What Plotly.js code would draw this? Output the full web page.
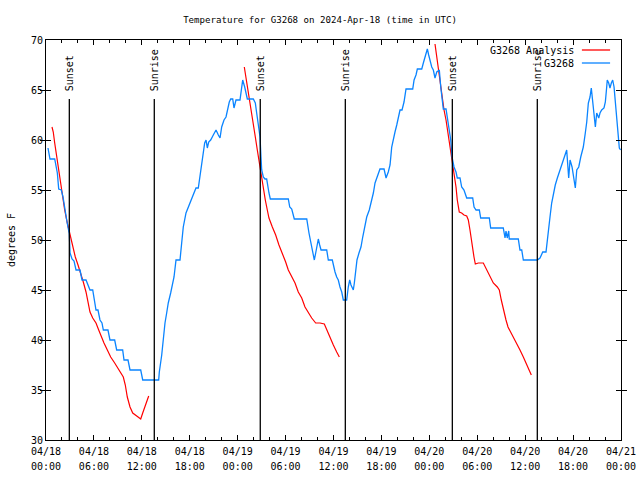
<!DOCTYPE html>
<html>
<head>
<meta charset="utf-8">
<script src="https://cdn.plot.ly/plotly-3.0.1.min.js"></script>
<style>html,body{margin:0;padding:0;background:#fff;}#chart{width:640px;height:480px;}</style>
</head>
<body>
<div id="chart"></div>
<script>
// Hours since 2024-04-18 00:00 UTC
const obsHours = [0.25,0.50,1.09,1.42,1.59,1.92,2.13,2.34,2.59,2.75,2.92,3.01,3.26,3.51,3.76,4.26,4.51,5.01,5.26,5.51,5.85,6.10,6.26,6.51,6.76,7.01,7.18,7.76,8.01,8.60,8.85,9.60,9.77,10.27,10.52,11.86,12.11,14.11,14.19,14.49,14.69,14.90,15.11,15.31,15.61,15.87,16.03,16.28,16.78,16.99,17.19,17.53,17.82,18.12,18.45,18.78,19.07,19.28,19.62,19.87,20.04,20.20,20.37,20.62,20.95,21.29,21.58,21.79,22.00,22.29,22.54,22.70,22.95,23.13,23.38,23.54,23.79,24.29,24.38,24.63,24.88,25.04,25.21,25.96,26.21,26.38,26.58,26.80,26.92,27.01,27.21,27.42,27.63,27.76,27.92,28.09,30.34,30.52,30.77,30.93,31.09,32.65,32.77,32.93,33.10,33.27,33.47,33.60,33.77,33.93,34.10,34.27,34.44,35.15,35.35,35.85,36.03,36.19,36.40,36.60,36.81,37.03,37.23,37.65,37.85,38.03,38.19,38.48,38.61,38.78,38.94,39.19,39.44,39.66,39.95,40.16,40.48,40.79,40.99,41.20,41.49,41.82,42.33,42.58,42.86,43.08,43.29,43.49,43.70,43.92,44.12,44.33,44.58,44.83,45.08,45.92,46.09,46.33,46.50,47.05,47.25,47.46,47.75,47.92,48.09,48.30,48.50,48.71,48.93,49.25,49.43,49.59,49.75,50.09,50.25,50.43,50.68,50.84,51.09,51.34,51.50,51.84,52.05,52.34,52.68,53.43,53.60,53.85,54.26,54.43,55.51,55.68,57.26,57.48,57.60,57.76,57.94,58.01,59.14,59.35,59.57,59.77,61.52,61.86,62.20,62.61,62.78,62.95,63.11,63.32,63.52,63.77,64.03,64.28,64.58,64.86,65.20,65.45,65.62,65.87,66.12,66.28,66.46,66.71,66.96,67.28,67.53,67.71,67.91,68.12,68.28,68.46,68.62,68.79,68.96,69.21,69.37,69.58,69.87,70.04,70.21,70.28,70.46,70.62,70.79,70.96,71.13,71.29,71.47,71.67,71.79,71.95];
const obsTemp = [59.2,58.1,58.1,56.7,55.1,55.0,54.3,53.0,52.0,51.3,50.6,48.7,48.1,47.9,47.0,47.0,46.0,46.0,45.5,45.0,45.0,43.8,43.0,43.0,42.0,41.7,41.0,41.0,40.0,40.0,39.0,39.0,38.0,38.0,37.0,37.0,36.0,36.0,36.8,38.5,40.3,41.7,42.7,43.7,44.7,45.7,46.3,48.0,48.0,49.7,51.3,52.7,53.3,53.8,54.5,55.2,55.2,56.3,58.0,59.7,60.0,59.2,59.8,60.0,60.5,61.0,60.5,60.2,61.3,62.0,62.3,63.0,63.8,64.1,64.1,63.2,64.0,64.0,64.7,66.0,65.3,64.7,64.1,64.1,63.7,62.7,61.7,60.3,58.3,57.0,56.3,56.1,56.1,55.3,54.7,54.1,54.1,53.3,53.1,52.6,52.1,52.1,51.3,50.7,50.0,49.3,48.5,48.0,48.7,49.3,50.1,49.5,49.0,49.0,48.0,48.0,47.3,46.8,46.3,46.0,45.3,44.8,44.0,44.0,45.3,46.0,45.5,45.0,45.7,47.0,48.0,48.7,49.3,50.3,51.3,52.3,53.0,54.0,54.7,55.7,56.3,57.1,57.1,56.2,56.8,57.5,59.3,60.2,60.8,61.5,62.2,63.0,63.0,63.8,65.1,65.1,66.0,66.5,67.1,67.1,67.7,68.3,69.1,68.5,67.8,67.3,67.0,66.2,66.8,67.0,65.3,64.2,63.1,63.1,62.3,61.3,60.0,58.3,57.3,56.8,56.2,56.2,55.3,55.0,54.2,54.2,53.3,53.0,53.0,52.2,52.2,51.2,51.2,50.2,50.9,50.2,50.9,50.1,50.1,49.0,49.0,48.0,48.0,48.2,48.8,48.8,50.2,51.3,52.3,53.7,54.7,55.5,56.2,56.8,57.3,58.2,59.0,56.2,58.0,57.3,55.7,55.2,57.0,57.3,58.3,59.3,60.7,61.8,63.7,64.3,65.2,63.7,63.0,61.3,62.7,62.2,62.7,63.0,63.2,63.8,65.3,66.0,65.7,65.2,65.7,66.0,65.3,63.7,62.0,60.3,59.2,59.0];

const anaHours = [0.75,0.91,1.09,1.34,1.59,1.84,2.09,2.34,2.67,3.01,3.34,3.67,4.01,4.35,4.67,5.01,5.26,5.51,5.85,6.26,6.60,6.92,7.26,7.68,8.10,8.60,9.02,9.43,9.68,9.93,10.18,10.52,10.86,11.36,11.86,12.11,12.43,12.86,
  null,
  24.83,25.04,25.26,25.46,25.71,25.96,26.21,26.46,26.71,26.96,27.21,27.46,27.71,27.92,28.34,28.76,29.17,29.59,30.01,30.34,30.77,31.18,31.59,32.02,32.43,32.85,33.27,33.77,34.31,34.85,35.15,35.56,35.98,36.40,36.73,
  null,
  48.71,48.93,49.12,49.34,49.55,49.84,50.09,50.34,50.59,50.84,51.09,51.34,51.50,51.75,52.05,52.34,52.68,52.88,53.09,53.30,53.59,53.76,54.13,54.76,55.18,55.60,56.01,56.51,56.76,57.01,57.26,57.60,57.85,58.19,58.52,58.94,59.35,59.77,60.11,60.44,60.77];
const anaTemp = [61.3,60.8,59.7,58.3,56.8,55.5,54.3,53.0,51.7,50.5,49.5,48.3,47.5,46.7,45.8,44.8,43.8,42.8,42.2,41.7,41.0,40.3,39.7,39.0,38.3,37.7,37.2,36.7,36.3,35.5,34.3,33.3,32.7,32.4,32.1,32.7,33.5,34.4,
  null,
  67.3,66.3,65.3,64.3,63.0,61.7,60.3,59.0,57.7,56.3,55.0,54.0,53.0,52.2,51.3,50.5,49.5,48.7,47.8,47.0,46.3,45.7,44.8,44.2,43.3,42.7,42.2,41.7,41.7,41.6,41.0,40.2,39.5,38.8,38.3,
  null,
  69.6,68.3,67.0,65.7,64.3,63.0,62.0,60.7,59.3,58.0,56.7,55.3,54.0,52.8,52.7,52.5,52.4,52.0,51.0,49.7,48.3,47.6,47.7,47.7,47.0,46.3,45.7,45.3,45.0,44.0,43.0,42.0,41.3,40.8,40.3,39.7,39.0,38.3,37.7,37.0,36.5];

const sunHours = [2.92, 13.56, 26.83, 37.48, 50.88, 61.52];
const sunLabels = ["Sunset","Sunrise","Sunset","Sunrise","Sunset","Sunrise"];

const tickHours = [0,6,12,18,24,30,36,42,48,54,60,66,72];
const tickDates = ["04/18","04/18","04/18","04/18","04/19","04/19","04/19","04/19","04/20","04/20","04/20","04/20","04/21"];
const tickTimes = ["00:00","06:00","12:00","18:00","00:00","06:00","12:00","18:00","00:00","06:00","12:00","18:00","00:00"];
const legendNames = ["G3268 Analysis","G3268"];

const FONT = "DejaVu Sans Mono, monospace";
const red = "#ff0000", blue = "#0a84ff";

const traces = [
  {x: anaHours, y: anaTemp, type: "scatter", mode: "lines", name: legendNames[0], connectgaps: false,
   line: {color: red, width: 1.2}, showlegend: false},
  {x: obsHours, y: obsTemp, type: "scatter", mode: "lines", name: legendNames[1],
   line: {color: blue, width: 1.3}, showlegend: false},
  // invisible carrier so the second (time-of-day) label row is drawn
  {x: [tickHours[0], tickHours[tickHours.length - 1]], y: [null, null], xaxis: "x2", type: "scatter", mode: "lines",
   showlegend: false, hoverinfo: "skip"}
];

const shapes = sunHours.map(h => ({type: "line", xref: "x", yref: "y", x0: h, x1: h, y0: 30, y1: 64.1,
  line: {color: "#000", width: 1.3}}));
const annotations = sunHours.map((h, i) => ({xref: "x", yref: "y", x: h, y: 64.7, text: sunLabels[i],
  showarrow: false, textangle: -90, xanchor: "center", yanchor: "bottom",
  font: {family: FONT, size: 10, color: "#000"}}));

// gnuplot-style key (text then line sample)
const keyY = [0.975, 0.9425];
[red, blue].forEach((c, i) => {
  annotations.push({xref: "paper", yref: "paper", x: 0.921, y: keyY[i], text: legendNames[i], showarrow: false,
    xanchor: "right", yanchor: "middle", font: {family: FONT, size: 10, color: "#000"}});
  shapes.push({type: "line", xref: "paper", yref: "paper", x0: 0.932, x1: 0.981, y0: keyY[i], y1: keyY[i],
    line: {color: c, width: 1.3}});
});

const layout = {
  width: 640, height: 480,
  margin: {l: 46, r: 19, t: 40, b: 40},
  paper_bgcolor: "#fff", plot_bgcolor: "#fff",
  font: {family: FONT, size: 10, color: "#000"},
  title: {text: "Temperature for G3268 on 2024-Apr-18 (time in UTC)", x: 0.5, xanchor: "center", y: 0.958, yanchor: "middle",
    font: {family: FONT, size: 9.1, color: "#000"}},
  showlegend: false,
  xaxis: {range: [0, 72], tickvals: tickHours, ticktext: tickDates, ticks: "inside", ticklen: 5, tickwidth: 1,
    tickcolor: "#000", showline: true, linecolor: "#000", linewidth: 1, mirror: "allticks", showgrid: false, zeroline: false,
    minor: {dtick: 2, tick0: 0, ticks: "inside", ticklen: 3, tickcolor: "#000", showgrid: false},
    tickfont: {family: FONT, size: 10}, ticklabelstandoff: 2, fixedrange: true},
  xaxis2: {range: [0, 72], overlaying: "x", side: "bottom", anchor: "y", tickvals: tickHours, ticktext: tickTimes,
    ticks: "", showline: false, showgrid: false, zeroline: false, tickfont: {family: FONT, size: 10},
    ticklabelstandoff: 19, fixedrange: true},
  yaxis: {range: [30, 70], dtick: 5, ticks: "inside", ticklen: 5, tickcolor: "#000", showline: true, linecolor: "#000",
    linewidth: 1, mirror: "allticks", showgrid: false, zeroline: false,
    title: {text: "degrees F", font: {family: FONT, size: 10}, standoff: 13},
    tickfont: {family: FONT, size: 10}, fixedrange: true},
  shapes: shapes,
  annotations: annotations
};

Plotly.newPlot("chart", traces, layout, {displayModeBar: false, staticPlot: true});
</script>
</body>
</html>
